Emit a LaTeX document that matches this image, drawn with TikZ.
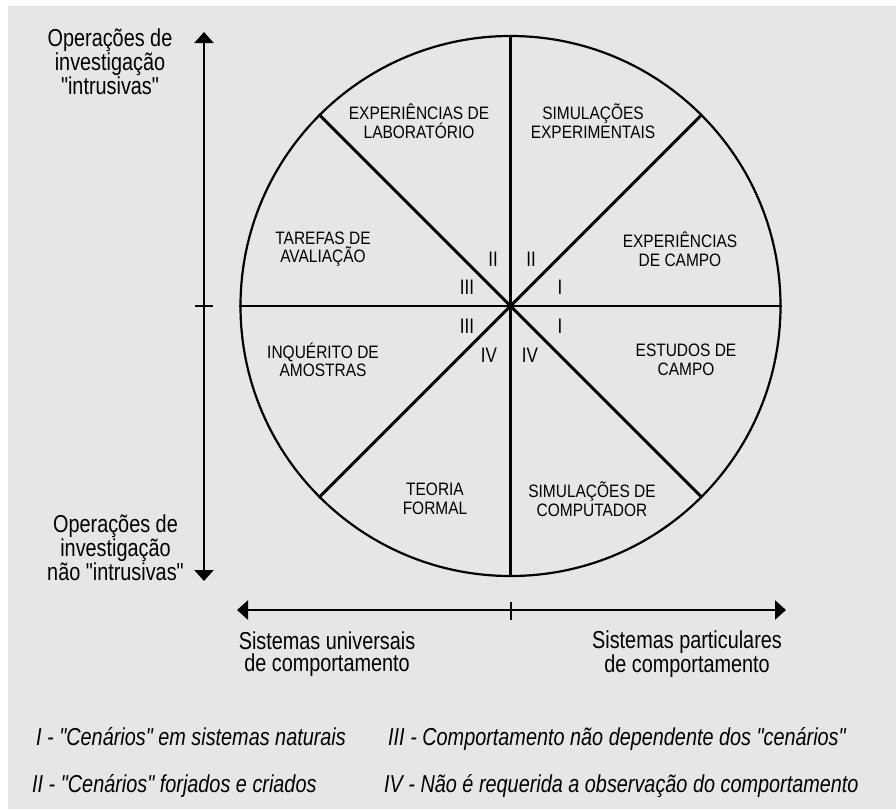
\documentclass[tikz,border=0pt]{standalone}
\usepackage{fontspec}
\setmainfont{Liberation Sans}[FakeStretch=0.81, Ligatures=TeXOff]
\newfontfamily\sectorfont{Liberation Sans}[FakeStretch=0.86, Ligatures=TeXOff]
\usetikzlibrary{arrows.meta}
\definecolor{panel}{HTML}{E6E6E6}
\tikzset{
  axis/.style={line width=2.5pt, {Triangle[length=11pt,width=19pt]}-{Triangle[length=11pt,width=19pt]}},
  tick/.style={line width=2.5pt},
  spoke/.style={line width=2.4pt},
  diag/.style={line width=3pt},
  sector/.style={align=center, font=\sectorfont\fontsize{18}{18.5}\selectfont, inner sep=0pt},
  numeral/.style={font=\fontsize{21}{21}\selectfont, inner sep=0pt},
  vlabel/.style={align=center, font=\fontsize{24.5}{22.5}\selectfont, inner sep=0pt},
  hlabel/.style={align=center, font=\fontsize{24.5}{22}\selectfont, inner sep=0pt},
  legend/.style={anchor=base west, font=\fontsize{24.5}{24}\selectfont\itshape, inner sep=0pt}
}
\begin{document}
\begin{tikzpicture}[x=1pt, y=-1pt]
  \useasboundingbox (0,0) rectangle (896,809);
  \fill[panel] (8,6) rectangle (896,809);

  % circle divided into eight sectors
  \node[circle, draw, line width=2.2pt, minimum size=540pt, inner sep=0pt] (wheel) at (510.5,306) {};
  \draw[spoke] (wheel.90) -- (wheel.270);
  \draw[spoke] (wheel.180) -- (wheel.0);
  \draw[diag] (wheel.135) -- (wheel.315);
  \draw[diag] (wheel.45) -- (wheel.225);

  % sector labels
  \node[sector] (lab)  at (419,121) {EXPERIÊNCIAS DE\\LABORATÓRIO};
  \node[sector] (simx) at (593,121) {SIMULAÇÕES\\EXPERIMENTAIS};
  \node[sector] (tar)  at (323,249) {TAREFAS DE\\AVALIAÇÃO};
  \node[sector] (expc) at (680,249) {EXPERIÊNCIAS\\DE CAMPO};
  \node[sector] (inq)  at (323,360) {INQUÉRITO DE\\AMOSTRAS};
  \node[sector] (est)  at (686,360) {ESTUDOS DE\\CAMPO};
  \node[sector] (teo)  at (435,499) {TEORIA\\FORMAL};
  \node[sector] (simc) at (592,499) {SIMULAÇÕES DE\\COMPUTADOR};

  % roman numerals around the centre
  \node[numeral] (n2a) at (493,259) {II};
  \node[numeral] (n2b) at (531,259) {II};
  \node[numeral] (n3a) at (467,287) {III};
  \node[numeral] (n1a) at (560,287) {I};
  \node[numeral] (n3b) at (467,326) {III};
  \node[numeral] (n1b) at (560,326) {I};
  \node[numeral] (n4a) at (489,355) {IV};
  \node[numeral] (n4b) at (530,355) {IV};

  % vertical axis
  \coordinate (vtop) at (204,32);
  \coordinate (vbot) at (204,581);
  \coordinate (vtl) at (195,306);
  \coordinate (vtr) at (213,306);
  \draw[axis] (vbot) -- (vtop);
  \draw[tick] (vtl) -- (vtr);
  \node[vlabel] (intr) at (110,62) {Operações de\\investigação\\"intrusivas"};
  \node[vlabel] (nintr) at (115.5,548) {Operações de\\investigação\\não "intrusivas"};

  % horizontal axis
  \coordinate (hl) at (237,610);
  \coordinate (hr) at (786,610);
  \coordinate (htt) at (511,602);
  \coordinate (htb) at (511,620);
  \draw[axis] (hl) -- (hr);
  \draw[tick] (htt) -- (htb);
  \node[hlabel] (univ) at (327,654) {Sistemas universais\\de comportamento};
  \node[hlabel] (part) at (687,654) {Sistemas particulares\\de comportamento};

  % legend
  \node[legend] (l1) at (36,745) {I - "Cenários" em sistemas naturais};
  \node[legend] (l3) at (388,745) {III - Comportamento não dependente dos "cenários"};
  \node[legend] (l2) at (32,792) {II - "Cenários" forjados e criados};
  \node[legend] (l4) at (384,792) {IV - Não é requerida a observação do comportamento};
\end{tikzpicture}
\end{document}
